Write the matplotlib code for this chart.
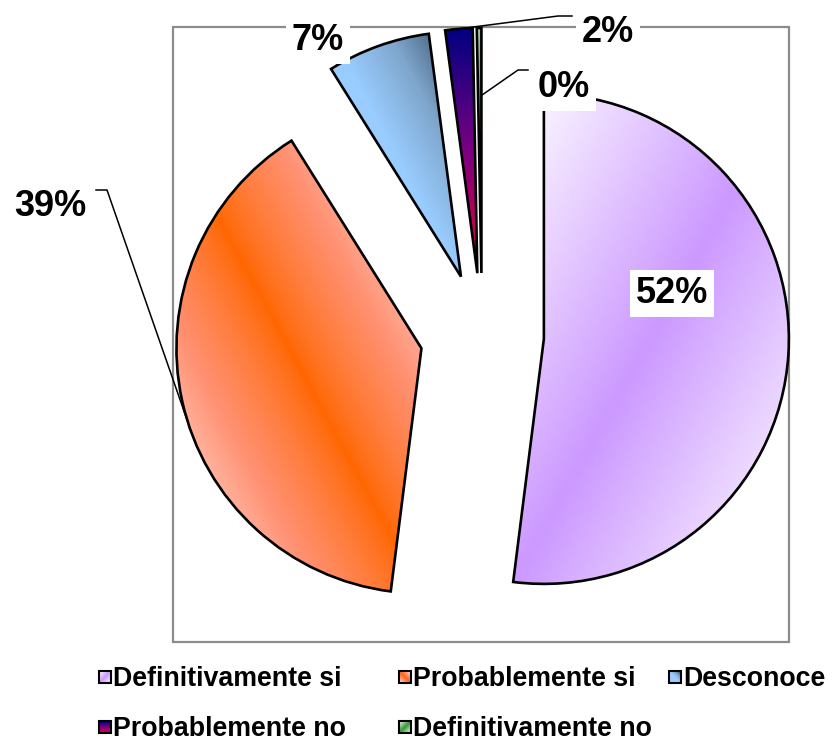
import numpy as np
import matplotlib
matplotlib.use('Agg')
import matplotlib.pyplot as plt
from matplotlib.colors import to_rgb
from matplotlib.patches import Rectangle

plt.rcParams['font.family'] = ['Liberation Sans', 'DejaVu Sans']

categories = ['Definitivamente si', 'Probablemente si', 'Desconoce',
              'Probablemente no', 'Definitivamente no']
shares = [52.0, 39.1, 6.8, 1.8, 0.3]

W, H = 835, 744
fig = plt.figure(figsize=(W / 100, H / 100), dpi=100)
ax = fig.add_axes([0, 0, 1, 1])


def P(x, y):
    # pixel position (y down) -> data position (y up)
    return (x, H - y)


def ramp(stops, t):
    # piecewise linear colour ramp, stops spread evenly over 0..1
    cols = np.array([to_rgb(c) for c in stops])
    t = np.clip(t, 0, 1) * (len(cols) - 1)
    k = np.minimum(t.astype(int), len(cols) - 2)
    f = (t - k)[..., None]
    return cols[k] * (1 - f) + cols[k + 1] * f


def grad(kind, n=160):
    u, v = np.meshgrid(np.linspace(0, 1, n), np.linspace(0, 1, n))
    if kind == 0:
        return ramp(['#CC99FF', '#E6CCFF', 'white'], np.abs(u + v - 1))
    if kind == 1:
        return ramp(['#FF6600', '#FF9173', '#FFF2F0'], np.abs(u - v) ** 0.8)
    if kind == 2:
        return ramp(['#99CCFF', '#7FA6CC', '#3E5670'], (u - v) * 1.1)
    if kind == 3:
        return ramp(['#000080', '#7A0080', '#E8003A'], v)
    return ramp(['#339933', '#99CC99', '#E6FFE6'], np.abs(u + v - 1))


# plot area frame
ax.add_patch(Rectangle(P(173, 642), 616, 615, fill=False, ec='#8C8C8C',
                       lw=1.6, zorder=0))

wedges, _ = ax.pie(shares, startangle=90, counterclock=False, radius=245,
                   center=P(482, 335), explode=[62] * len(shares),
                   wedgeprops=dict(linewidth=1.9, edgecolor='black', zorder=3))

for i, w in enumerate(wedges):
    ext = w.get_path().get_extents()
    im = ax.imshow(grad(i), extent=(ext.x0, ext.x1, ext.y0, ext.y1),
                   origin='upper', aspect='auto', zorder=2,
                   interpolation='bilinear')
    im.set_clip_path(w)
    w.set_facecolor('none')

# data labels
label_pos = [(672, 303, 'center'), (50, 216, 'center'), (318, 50, 'center'),
             (582, 42, 'left'), (538, 97, 'left')]
for i, s in enumerate(shares):
    x, y, ha = label_pos[i]
    ax.text(*P(x, y), f'{round(s)}%', fontsize=26, fontweight='bold',
            ha=ha, va='baseline', zorder=5,
            bbox=dict(boxstyle='square,pad=0.16', fc='white', ec='none'))

# leader lines: (slice, fraction of radius, angle shift, elbow, end)
leaders = [(1, 1.0, 5, (107, 190), (96, 190)),
           (3, 1.0, 0, (558, 16), (572, 16)),
           (4, 0.72, 0, (518, 70), (528, 70))]
for i, f, dth, elbow, end in leaders:
    w = wedges[i]
    th = np.radians((w.theta1 + w.theta2) / 2 + dth)
    x0 = w.center[0] + f * w.r * np.cos(th)
    y0 = w.center[1] + f * w.r * np.sin(th)
    ex, ey = P(*elbow)
    nx, ny = P(*end)
    ax.plot([x0, ex, nx], [y0, ey, ny], color='black', lw=1.1, zorder=1)

# legend
legend_pos = [(113, 677), (413, 677), (683, 677), (113, 727), (413, 727)]
for i, name in enumerate(categories):
    x, y = legend_pos[i]
    mx0, my0 = P(x - 14, y + 6)
    ax.imshow(grad(i, 20), extent=(mx0, mx0 + 12, my0, my0 + 12),
              origin='upper', aspect='auto', zorder=5)
    ax.add_patch(Rectangle((mx0, my0), 12, 12, fill=False, ec='black',
                           lw=1.5, zorder=6))
    ax.text(*P(x, y + 9), name, fontsize=19.3, fontweight='bold',
            ha='left', va='baseline', zorder=5)

ax.set_xlim(0, W)
ax.set_ylim(0, H)
ax.axis('off')

fig.savefig('out.png', dpi=100)
